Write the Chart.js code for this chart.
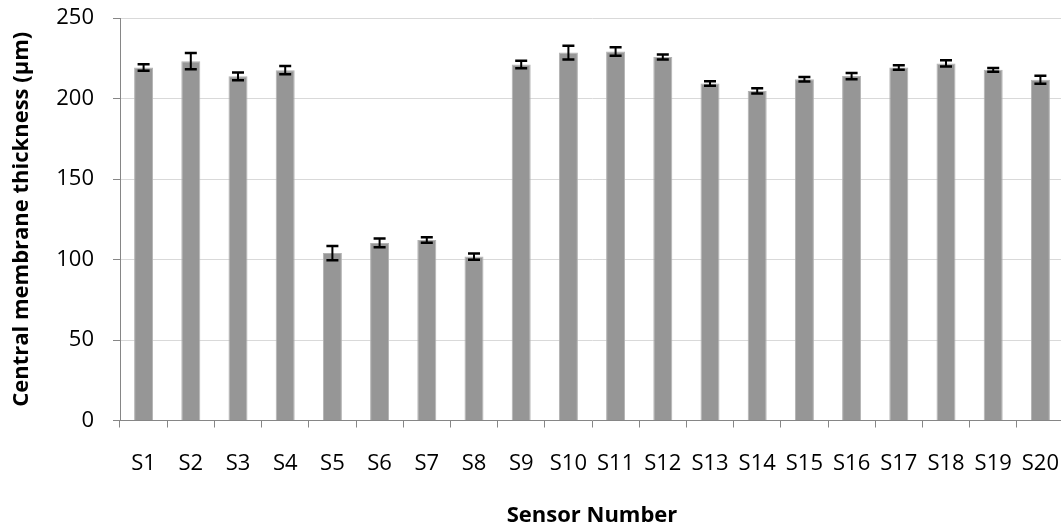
<!DOCTYPE html>
<html>
<head>
<meta charset="utf-8">
<script src="https://cdn.jsdelivr.net/npm/chart.js@4.4.1/dist/chart.umd.min.js"></script>
<style>
  html, body { margin: 0; padding: 0; background: #fff; overflow: hidden; }
  #wrap { width: 1070px; height: 529px; }
</style>
</head>
<body>
<div id="wrap"><canvas id="chart" width="1070" height="529"></canvas></div>
<script>
// Sensors and their mean central membrane thickness (µm) with error half-widths
const sensors = ['S1','S2','S3','S4','S5','S6','S7','S8','S9','S10',
                 'S11','S12','S13','S14','S15','S16','S17','S18','S19','S20'];
const thickness = [219.3, 223.2, 213.8, 217.6, 104.0, 110.3, 112.1, 101.8, 221.1, 228.5,
                   229.2, 225.8, 209.3, 204.7, 212.0, 213.9, 219.2, 221.8, 217.8, 211.6];
const errors = [2.0, 5.0, 2.4, 2.6, 4.4, 2.7, 1.7, 2.0, 2.3, 4.2,
                2.7, 1.6, 1.4, 1.6, 1.4, 1.9, 1.4, 2.0, 1.2, 2.5];
const yTicks = [0, 50, 100, 150, 200, 250];

const textFont = 'Open Sans';

// Draws symmetric error bars on top of each bar
const errorBars = {
  id: 'errorBars',
  afterDatasetsDraw(chart) {
    const meta = chart.getDatasetMeta(0);
    const y = chart.scales.y;
    const ctx = chart.ctx;
    ctx.save();
    ctx.strokeStyle = '#000';
    ctx.lineCap = 'butt';
    meta.data.forEach((bar, i) => {
      const x = bar.x;
      const hi = y.getPixelForValue(thickness[i] + errors[i]);
      const lo = y.getPixelForValue(thickness[i] - errors[i]);
      ctx.lineWidth = 2;
      ctx.beginPath();
      ctx.moveTo(x, hi);
      ctx.lineTo(x, lo);
      ctx.stroke();
      ctx.lineWidth = 2.5;
      ctx.beginPath();
      ctx.moveTo(x - 6, hi);
      ctx.lineTo(x + 6, hi);
      ctx.moveTo(x - 6, lo);
      ctx.lineTo(x + 6, lo);
      ctx.stroke();
    });
    ctx.restore();
  }
};

new Chart(document.getElementById('chart'), {
  type: 'bar',
  data: {
    labels: sensors,
    datasets: [{
      data: thickness,
      backgroundColor: '#969696',
      borderColor: '#b2b2b2',
      borderWidth: 1,
      barPercentage: 0.4025,
      categoryPercentage: 1.0
    }]
  },
  options: {
    responsive: false,
    animation: false,
    events: [],
    layout: { padding: { top: 18, right: 6, left: 0, bottom: 0 } },
    plugins: {
      legend: { display: false },
      tooltip: { enabled: false }
    },
    scales: {
      x: {
        type: 'category',
        offset: true,
        border: { display: true, color: '#868686', width: 1 },
        grid: {
          offset: true,
          drawOnChartArea: false,
          drawTicks: true,
          tickLength: 7,
          color: '#868686'
        },
        ticks: {
          color: '#000',
          font: { family: textFont, size: 22 },
          padding: 23,
          maxRotation: 0,
          autoSkip: false
        },
        title: {
          display: true,
          text: 'Sensor Number',
          color: '#000',
          font: { family: textFont, size: 22, weight: 'bold' },
          padding: { top: 0, bottom: 0 }
        },
        afterFit(scale) {
          scale.height = 108.5;
          scale.paddingLeft = 0;
          scale.paddingRight = 0;
        }
      },
      y: {
        min: 0,
        max: 250,
        afterBuildTicks(scale) { scale.ticks = yTicks.map(v => ({ value: v })); },
        border: { display: true, color: '#868686', width: 1 },
        grid: {
          color: '#d9d9d9',
          lineWidth: 1,
          drawTicks: true,
          tickLength: 7,
          tickColor: '#868686'
        },
        ticks: {
          color: '#000',
          font: { family: textFont, size: 22 },
          padding: 19
        },
        title: {
          display: true,
          text: 'Central membrane thickness (µm)',
          color: '#000',
          font: { family: textFont, size: 22, weight: 'bold' },
          padding: { top: 9, bottom: 0 }
        },
        afterFit(scale) {
          scale.width = 120;
          scale.paddingTop = 0;
          scale.paddingBottom = 0;
        }
      }
    }
  },
  plugins: [errorBars]
});
</script>
</body>
</html>
